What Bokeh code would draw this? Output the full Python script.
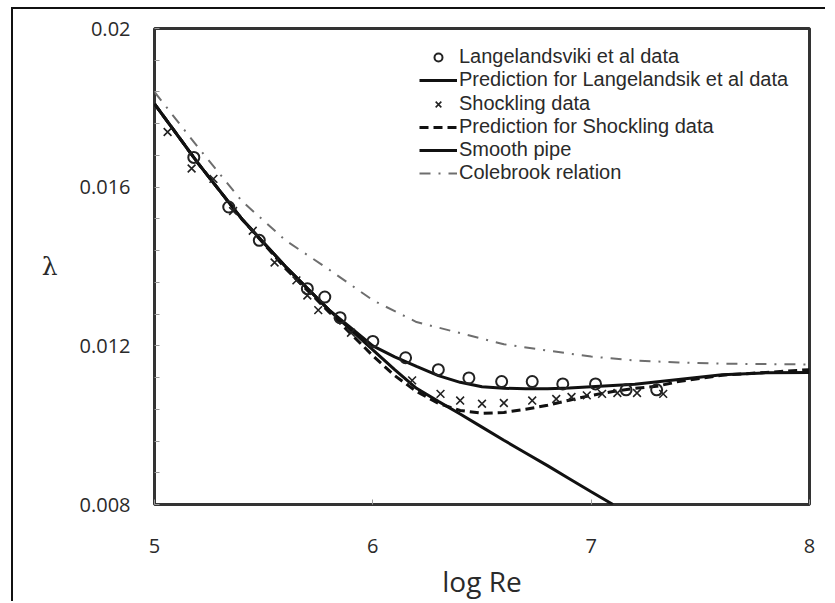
from bokeh.plotting import figure
from bokeh.models import (Range1d, FixedTicker, Legend, LegendItem)
from bokeh.embed import file_html
from bokeh.resources import INLINE

# ---------------- data ----------------
lang_x = [5.18, 5.34, 5.48, 5.70, 5.78, 5.85, 6.00, 6.15, 6.30, 6.44, 6.59, 6.73, 6.87, 7.02, 7.16, 7.30]
lang_y = [0.01675, 0.01550, 0.01466, 0.01344, 0.01323, 0.01271, 0.01211, 0.01170, 0.01140, 0.01119,
          0.01110, 0.01110, 0.01104, 0.01104, 0.01089, 0.01089]

lang_pred_x = [5.0, 5.2, 5.4, 5.6, 5.8, 5.9, 6.0, 6.1, 6.2, 6.3, 6.4, 6.5, 6.6, 6.7, 6.8, 6.9, 7.0,
               7.2, 7.4, 7.6, 7.8, 8.0]
lang_pred_y = [0.0181, 0.0166, 0.0152, 0.0140, 0.0129, 0.01245, 0.0120, 0.01172, 0.01148, 0.01125,
               0.01108, 0.01097, 0.01093, 0.01092, 0.01092, 0.01094, 0.01097, 0.01103, 0.01115,
               0.01127, 0.01132, 0.01133]

shock_x = [5.06, 5.17, 5.27, 5.36, 5.45, 5.55, 5.65, 5.70, 5.75, 5.90, 6.18, 6.31, 6.40, 6.50, 6.60,
           6.73, 6.84, 6.91, 6.98, 7.05, 7.12, 7.21, 7.33]
shock_y = [0.01739, 0.01647, 0.01621, 0.01540, 0.01490, 0.01410, 0.01365, 0.01327, 0.01290, 0.01233,
           0.01113, 0.01079, 0.01062, 0.01054, 0.01056, 0.01062, 0.01066, 0.01071, 0.01075, 0.01079,
           0.01081, 0.01081, 0.01079]

shock_pred_x = [5.0, 5.2, 5.4, 5.6, 5.8, 5.9, 6.0, 6.1, 6.2, 6.3, 6.4, 6.5, 6.6, 6.7, 6.8, 6.9, 7.0,
                7.1, 7.2, 7.3, 7.4, 7.6, 7.8, 8.0]
shock_pred_y = [0.0181, 0.0166, 0.0152, 0.01395, 0.01285, 0.0123, 0.01175, 0.01125, 0.01085, 0.01055,
                0.01037, 0.01030, 0.01032, 0.01040, 0.01050, 0.01063, 0.01075, 0.01085, 0.01093,
                0.01098, 0.01110, 0.01126, 0.01133, 0.01140]

smooth_x = [5.0, 5.1, 5.2, 5.3, 5.4, 5.5, 5.6, 5.7, 5.8, 5.9, 6.0, 6.1, 6.2, 6.3, 6.4, 6.5, 6.6, 6.7,
            6.8, 6.9, 7.0, 7.1]
smooth_y = [0.0181, 0.01735, 0.0166, 0.0159, 0.0152, 0.0146, 0.0140, 0.01345, 0.0129, 0.0124, 0.0119,
            0.0114, 0.01093, 0.01060, 0.01028, 0.00995, 0.00962, 0.00930, 0.00898, 0.00865, 0.00832,
            0.0080]

cole_x = [5.0, 5.2, 5.4, 5.6, 5.8, 6.0, 6.2, 6.4, 6.6, 6.8, 7.0, 7.2, 7.4, 7.6, 7.8, 8.0]
cole_y = [0.0184, 0.0170, 0.01565, 0.01466, 0.01392, 0.01315, 0.01260, 0.01232, 0.01204, 0.01188,
          0.01173, 0.01163, 0.01158, 0.01155, 0.01154, 0.01153]

x_ticks = [5, 6, 7, 8]
y_ticks = [0.008, 0.012, 0.016, 0.02]
y_tick_labels = ["0.008", "0.012", "0.016", "0.02"]
y_minor = [0.0088, 0.0096, 0.0104, 0.0112, 0.0128, 0.0136, 0.0144, 0.0152, 0.0168, 0.0176, 0.0184, 0.0192]

series_names = ["Langelandsviki et al data", "Prediction for Langelandsik et al data",
                "Shockling data", "Prediction for Shockling data", "Smooth pipe", "Colebrook relation"]
x_title = "log Re"
y_title = "λ"

FONT = "Open Sans"
LEG_FONT = "Liberation Sans"
TXT = "#2a2a2a"

p = figure(width=814, height=594, output_backend="svg", toolbar_location=None,
           x_range=Range1d(5, 8), y_range=Range1d(0.008, 0.02),
           min_border_left=141, min_border_right=18, min_border_top=19, min_border_bottom=99,
           styles={"margin-left": "11px", "margin-top": "7px",
                   "border-top": "2px solid #111", "border-left": "2px solid #111"})

p.xgrid.visible = False
p.ygrid.visible = False
p.outline_line_color = "#333333"
p.outline_line_width = 3
p.background_fill_color = "white"
p.border_fill_color = "white"

for ax in (p.xaxis[0], p.yaxis[0]):
    ax.axis_line_color = None
    ax.major_tick_in = 5
    ax.major_tick_out = 0
    ax.minor_tick_in = 5
    ax.minor_tick_out = 0
    ax.major_tick_line_color = "#999999"
    ax.minor_tick_line_color = "#999999"
    ax.major_label_text_font = FONT
    ax.major_label_text_font_size = "20px"
    ax.major_label_text_color = TXT
    ax.axis_label_text_color = TXT
    ax.axis_label_text_font_style = "normal"

p.xaxis.ticker = FixedTicker(ticks=x_ticks, minor_ticks=[])
p.xaxis.major_label_standoff = 34
p.xaxis.axis_label = x_title
p.xaxis.axis_label_text_font = FONT
p.xaxis.axis_label_text_font_size = "28px"
p.xaxis.axis_label_standoff = 6

p.yaxis.ticker = FixedTicker(ticks=y_ticks, minor_ticks=y_minor)
p.yaxis.major_label_overrides = {t: l for t, l in zip(y_ticks, y_tick_labels)}
p.yaxis.major_label_standoff = 24
p.yaxis.axis_label = y_title
p.yaxis.axis_label_text_font = "DejaVu Serif"
p.yaxis.axis_label_text_font_size = "25px"
p.yaxis.axis_label_standoff = 19
if "axis_label_orientation" in p.yaxis[0].properties():
    p.yaxis[0].axis_label_orientation = "horizontal"

# curves
r_cole = p.line(cole_x, cole_y, line_color="#6e6e6e", line_width=2, line_dash="11 8 2 8")
r_smooth = p.line(smooth_x, smooth_y, line_color="#111111", line_width=3)
r_spred = p.line(shock_pred_x, shock_pred_y, line_color="#111111", line_width=3, line_dash="9 5")
r_lpred = p.line(lang_pred_x, lang_pred_y, line_color="#111111", line_width=3)
r_shock = p.scatter(shock_x, shock_y, marker="x", size=11, line_color="#222222", line_width=1.6)
r_lang = p.scatter(lang_x, lang_y, marker="circle", size=11, fill_color=None,
                   line_color="#222222", line_width=2)

# legend: one single-row legend per entry so the row pitch matches the reference
renderers = [r_lang, r_lpred, r_shock, r_spred, r_smooth, r_cole]
ROW_PITCH = 23.2
FIRST_ROW_FROM_TOP = 29.0   # px from frame top to first row centre
FRAME_H = 476
ROW_BOX = 22.34
for i, (name, r) in enumerate(zip(series_names, renderers)):
    centre = FIRST_ROW_FROM_TOP + i * ROW_PITCH
    y_loc = FRAME_H - centre - ROW_BOX / 2
    lg = Legend(items=[LegendItem(label=name, renderers=[r])],
                location=(265, round(y_loc)), padding=0, margin=0, spacing=0,
                border_line_color=None, background_fill_alpha=0,
                label_text_font=LEG_FONT, label_text_font_size="20px", label_text_color=TXT,
                glyph_width=38, glyph_height=20, label_height=20, label_standoff=2)
    p.add_layout(lg)

open("out.html", "w").write(file_html(p, INLINE))
